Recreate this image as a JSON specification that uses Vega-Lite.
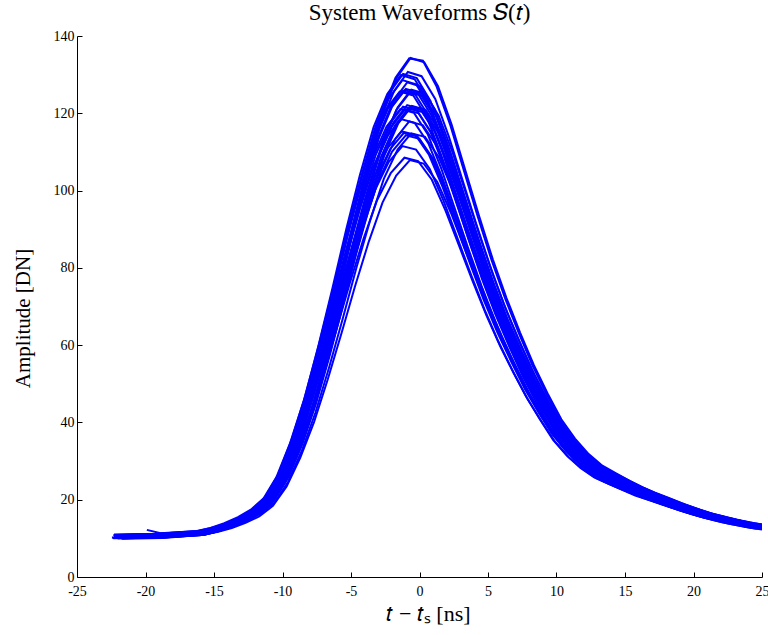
{
"$schema": "https://vega.github.io/schema/vega-lite/v6.json",
"autosize": "none",
"width": 685,
"height": 541,
"padding": {"left": 77, "top": 36, "right": 6, "bottom": 58},
"background": "white",
"config": {"view": {"stroke": null}, "font": "Liberation Serif"},
"title": {"text": "System Waveforms 𝑆(𝑡)", "font": "Liberation Serif", "fontSize": 23, "fontWeight": "normal", "color": "black", "anchor": "middle", "frame": "group", "baseline": "alphabetic", "offset": -14},
"data": {"values": [
{"w":1,"t":-21.7,"a":10.2},{"w":1,"t":-18.7,"a":10.4},{"w":1,"t":-15.7,"a":11.0},{"w":1,"t":-14.7,"a":11.7},{"w":1,"t":-13.7,"a":12.7},{"w":1,"t":-12.7,"a":14.0},{"w":1,"t":-11.7,"a":15.7},{"w":1,"t":-10.7,"a":18.4},{"w":1,"t":-9.7,"a":23.4},{"w":1,"t":-8.7,"a":30.9},{"w":1,"t":-7.7,"a":40.1},{"w":1,"t":-6.7,"a":51.1},{"w":1,"t":-5.7,"a":63.0},{"w":1,"t":-4.7,"a":75.3},{"w":1,"t":-3.7,"a":86.8},{"w":1,"t":-2.7,"a":96.9},{"w":1,"t":-1.7,"a":103.9},{"w":1,"t":-0.7,"a":107.9},{"w":1,"t":0.3,"a":107.0},{"w":1,"t":1.3,"a":102.2},{"w":1,"t":2.3,"a":94.2},{"w":1,"t":3.3,"a":85.0},{"w":1,"t":4.3,"a":75.8},{"w":1,"t":5.3,"a":67.0},{"w":1,"t":6.3,"a":59.0},{"w":1,"t":7.3,"a":52.0},{"w":1,"t":8.3,"a":45.4},{"w":1,"t":9.3,"a":39.7},{"w":1,"t":10.3,"a":34.4},{"w":1,"t":11.3,"a":30.4},{"w":1,"t":12.3,"a":27.4},{"w":1,"t":13.3,"a":25.0},{"w":1,"t":14.3,"a":23.4},{"w":1,"t":15.3,"a":21.9},{"w":1,"t":16.3,"a":20.5},{"w":1,"t":17.3,"a":19.3},{"w":1,"t":18.3,"a":18.1},{"w":1,"t":19.3,"a":17.0},{"w":1,"t":20.3,"a":15.9},{"w":1,"t":21.3,"a":15.0},{"w":1,"t":22.3,"a":14.2},{"w":1,"t":23.3,"a":13.5},{"w":1,"t":24.3,"a":12.8},{"w":1,"t":25.3,"a":12.3},
{"w":2,"t":-22.1,"a":10.8},{"w":2,"t":-19.1,"a":11.0},{"w":2,"t":-16.1,"a":11.6},{"w":2,"t":-15.1,"a":12.3},{"w":2,"t":-14.1,"a":13.3},{"w":2,"t":-13.1,"a":14.6},{"w":2,"t":-12.1,"a":16.3},{"w":2,"t":-11.1,"a":19.0},{"w":2,"t":-10.1,"a":24.0},{"w":2,"t":-9.1,"a":31.5},{"w":2,"t":-8.1,"a":40.7},{"w":2,"t":-7.1,"a":51.7},{"w":2,"t":-6.1,"a":63.6},{"w":2,"t":-5.1,"a":75.9},{"w":2,"t":-4.1,"a":87.4},{"w":2,"t":-3.1,"a":97.5},{"w":2,"t":-2.1,"a":104.5},{"w":2,"t":-1.1,"a":108.5},{"w":2,"t":-0.1,"a":107.6},{"w":2,"t":0.9,"a":102.8},{"w":2,"t":1.9,"a":94.8},{"w":2,"t":2.9,"a":85.6},{"w":2,"t":3.9,"a":76.4},{"w":2,"t":4.9,"a":67.6},{"w":2,"t":5.9,"a":59.6},{"w":2,"t":6.9,"a":52.6},{"w":2,"t":7.9,"a":46.0},{"w":2,"t":8.9,"a":40.3},{"w":2,"t":9.9,"a":35.0},{"w":2,"t":10.9,"a":31.0},{"w":2,"t":11.9,"a":28.0},{"w":2,"t":12.9,"a":25.6},{"w":2,"t":13.9,"a":24.0},{"w":2,"t":14.9,"a":22.5},{"w":2,"t":15.9,"a":21.1},{"w":2,"t":16.9,"a":19.9},{"w":2,"t":17.9,"a":18.7},{"w":2,"t":18.9,"a":17.6},{"w":2,"t":19.9,"a":16.5},{"w":2,"t":20.9,"a":15.6},{"w":2,"t":21.9,"a":14.8},{"w":2,"t":22.9,"a":14.1},{"w":2,"t":23.9,"a":13.4},{"w":2,"t":24.9,"a":12.9},
{"w":3,"t":-21.6,"a":10.5},{"w":3,"t":-18.6,"a":10.7},{"w":3,"t":-15.6,"a":11.3},{"w":3,"t":-14.6,"a":12.1},{"w":3,"t":-13.6,"a":13.1},{"w":3,"t":-12.6,"a":14.5},{"w":3,"t":-11.6,"a":16.4},{"w":3,"t":-10.6,"a":19.2},{"w":3,"t":-9.6,"a":24.6},{"w":3,"t":-8.6,"a":32.6},{"w":3,"t":-7.6,"a":42.5},{"w":3,"t":-6.6,"a":54.2},{"w":3,"t":-5.6,"a":66.9},{"w":3,"t":-4.6,"a":80.1},{"w":3,"t":-3.6,"a":92.3},{"w":3,"t":-2.6,"a":103.1},{"w":3,"t":-1.6,"a":110.6},{"w":3,"t":-0.6,"a":114.8},{"w":3,"t":0.4,"a":113.9},{"w":3,"t":1.4,"a":108.7},{"w":3,"t":2.4,"a":100.3},{"w":3,"t":3.4,"a":90.4},{"w":3,"t":4.4,"a":80.5},{"w":3,"t":5.4,"a":71.1},{"w":3,"t":6.4,"a":62.7},{"w":3,"t":7.4,"a":55.2},{"w":3,"t":8.4,"a":48.1},{"w":3,"t":9.4,"a":42.0},{"w":3,"t":10.4,"a":36.4},{"w":3,"t":11.4,"a":32.1},{"w":3,"t":12.4,"a":28.8},{"w":3,"t":13.4,"a":26.3},{"w":3,"t":14.4,"a":24.6},{"w":3,"t":15.4,"a":23.0},{"w":3,"t":16.4,"a":21.5},{"w":3,"t":17.4,"a":20.2},{"w":3,"t":18.4,"a":19.0},{"w":3,"t":19.4,"a":17.7},{"w":3,"t":20.4,"a":16.6},{"w":3,"t":21.4,"a":15.6},{"w":3,"t":22.4,"a":14.7},{"w":3,"t":23.4,"a":14.0},{"w":3,"t":24.4,"a":13.3},{"w":3,"t":25.4,"a":12.8},
{"w":4,"t":-22,"a":10.0},{"w":4,"t":-19,"a":10.2},{"w":4,"t":-16,"a":10.8},{"w":4,"t":-15,"a":11.6},{"w":4,"t":-14,"a":12.6},{"w":4,"t":-13,"a":14.0},{"w":4,"t":-12,"a":15.9},{"w":4,"t":-11,"a":18.7},{"w":4,"t":-10,"a":24.1},{"w":4,"t":-9,"a":32.1},{"w":4,"t":-8,"a":42.0},{"w":4,"t":-7,"a":53.7},{"w":4,"t":-6,"a":66.4},{"w":4,"t":-5,"a":79.6},{"w":4,"t":-4,"a":91.8},{"w":4,"t":-3,"a":102.6},{"w":4,"t":-2,"a":110.1},{"w":4,"t":-1,"a":114.3},{"w":4,"t":0,"a":113.4},{"w":4,"t":1,"a":108.2},{"w":4,"t":2,"a":99.8},{"w":4,"t":3,"a":89.9},{"w":4,"t":4,"a":80.0},{"w":4,"t":5,"a":70.6},{"w":4,"t":6,"a":62.2},{"w":4,"t":7,"a":54.7},{"w":4,"t":8,"a":47.6},{"w":4,"t":9,"a":41.5},{"w":4,"t":10,"a":35.9},{"w":4,"t":11,"a":31.6},{"w":4,"t":12,"a":28.3},{"w":4,"t":13,"a":25.8},{"w":4,"t":14,"a":24.1},{"w":4,"t":15,"a":22.5},{"w":4,"t":16,"a":21.0},{"w":4,"t":17,"a":19.7},{"w":4,"t":18,"a":18.5},{"w":4,"t":19,"a":17.2},{"w":4,"t":20,"a":16.1},{"w":4,"t":21,"a":15.1},{"w":4,"t":22,"a":14.2},{"w":4,"t":23,"a":13.5},{"w":4,"t":24,"a":12.8},{"w":4,"t":25,"a":12.3},
{"w":5,"t":-22.3,"a":11.0},{"w":5,"t":-19.3,"a":11.2},{"w":5,"t":-16.3,"a":11.8},{"w":5,"t":-15.3,"a":12.6},{"w":5,"t":-14.3,"a":13.6},{"w":5,"t":-13.3,"a":15.0},{"w":5,"t":-12.3,"a":16.9},{"w":5,"t":-11.3,"a":19.7},{"w":5,"t":-10.3,"a":25.1},{"w":5,"t":-9.3,"a":33.1},{"w":5,"t":-8.3,"a":43.0},{"w":5,"t":-7.3,"a":54.7},{"w":5,"t":-6.3,"a":67.4},{"w":5,"t":-5.3,"a":80.6},{"w":5,"t":-4.3,"a":92.8},{"w":5,"t":-3.3,"a":103.6},{"w":5,"t":-2.3,"a":111.1},{"w":5,"t":-1.3,"a":115.3},{"w":5,"t":-0.3,"a":114.4},{"w":5,"t":0.7,"a":109.2},{"w":5,"t":1.7,"a":100.8},{"w":5,"t":2.7,"a":90.9},{"w":5,"t":3.7,"a":81.0},{"w":5,"t":4.7,"a":71.6},{"w":5,"t":5.7,"a":63.2},{"w":5,"t":6.7,"a":55.7},{"w":5,"t":7.7,"a":48.6},{"w":5,"t":8.7,"a":42.5},{"w":5,"t":9.7,"a":36.9},{"w":5,"t":10.7,"a":32.6},{"w":5,"t":11.7,"a":29.3},{"w":5,"t":12.7,"a":26.8},{"w":5,"t":13.7,"a":25.1},{"w":5,"t":14.7,"a":23.5},{"w":5,"t":15.7,"a":22.0},{"w":5,"t":16.7,"a":20.7},{"w":5,"t":17.7,"a":19.5},{"w":5,"t":18.7,"a":18.2},{"w":5,"t":19.7,"a":17.1},{"w":5,"t":20.7,"a":16.1},{"w":5,"t":21.7,"a":15.2},
{"w":6,"t":-21.8,"a":10.3},{"w":6,"t":-18.8,"a":10.5},{"w":6,"t":-15.8,"a":11.2},{"w":6,"t":-14.8,"a":12.0},{"w":6,"t":-13.8,"a":13.1},{"w":6,"t":-12.8,"a":14.6},{"w":6,"t":-11.8,"a":16.6},{"w":6,"t":-10.8,"a":19.6},{"w":6,"t":-9.8,"a":25.3},{"w":6,"t":-8.8,"a":33.8},{"w":6,"t":-7.8,"a":44.3},{"w":6,"t":-6.8,"a":56.8},{"w":6,"t":-5.8,"a":70.3},{"w":6,"t":-4.8,"a":84.3},{"w":6,"t":-3.8,"a":97.3},{"w":6,"t":-2.8,"a":108.8},{"w":6,"t":-1.8,"a":116.8},{"w":6,"t":-0.8,"a":121.3},{"w":6,"t":0.2,"a":120.3},{"w":6,"t":1.2,"a":114.8},{"w":6,"t":2.2,"a":105.8},{"w":6,"t":3.2,"a":95.3},{"w":6,"t":4.2,"a":84.8},{"w":6,"t":5.2,"a":74.8},{"w":6,"t":6.2,"a":65.8},{"w":6,"t":7.2,"a":57.8},{"w":6,"t":8.2,"a":50.3},{"w":6,"t":9.2,"a":43.8},{"w":6,"t":10.2,"a":37.8},{"w":6,"t":11.2,"a":33.3},{"w":6,"t":12.2,"a":29.8},{"w":6,"t":13.2,"a":27.1},{"w":6,"t":14.2,"a":25.3},{"w":6,"t":15.2,"a":23.6},{"w":6,"t":16.2,"a":22.0},{"w":6,"t":17.2,"a":20.6},{"w":6,"t":18.2,"a":19.3},{"w":6,"t":19.2,"a":18.0},{"w":6,"t":20.2,"a":16.8},{"w":6,"t":21.2,"a":15.7},{"w":6,"t":22.2,"a":14.8},{"w":6,"t":23.2,"a":14.0},{"w":6,"t":24.2,"a":13.3},{"w":6,"t":25.2,"a":12.7},
{"w":7,"t":-22.2,"a":10.7},{"w":7,"t":-19.2,"a":10.9},{"w":7,"t":-16.2,"a":11.6},{"w":7,"t":-15.2,"a":12.4},{"w":7,"t":-14.2,"a":13.5},{"w":7,"t":-13.2,"a":15.0},{"w":7,"t":-12.2,"a":17.0},{"w":7,"t":-11.2,"a":20.0},{"w":7,"t":-10.2,"a":25.7},{"w":7,"t":-9.2,"a":34.2},{"w":7,"t":-8.2,"a":44.7},{"w":7,"t":-7.2,"a":57.2},{"w":7,"t":-6.2,"a":70.7},{"w":7,"t":-5.2,"a":84.7},{"w":7,"t":-4.2,"a":97.7},{"w":7,"t":-3.2,"a":109.2},{"w":7,"t":-2.2,"a":117.2},{"w":7,"t":-1.2,"a":121.7},{"w":7,"t":-0.2,"a":120.7},{"w":7,"t":0.8,"a":115.2},{"w":7,"t":1.8,"a":106.2},{"w":7,"t":2.8,"a":95.7},{"w":7,"t":3.8,"a":85.2},{"w":7,"t":4.8,"a":75.2},{"w":7,"t":5.8,"a":66.2},{"w":7,"t":6.8,"a":58.2},{"w":7,"t":7.8,"a":50.7},{"w":7,"t":8.8,"a":44.2},{"w":7,"t":9.8,"a":38.2},{"w":7,"t":10.8,"a":33.7},{"w":7,"t":11.8,"a":30.2},{"w":7,"t":12.8,"a":27.5},{"w":7,"t":13.8,"a":25.7},{"w":7,"t":14.8,"a":24.0},{"w":7,"t":15.8,"a":22.4},{"w":7,"t":16.8,"a":21.0},{"w":7,"t":17.8,"a":19.7},{"w":7,"t":18.8,"a":18.4},{"w":7,"t":19.8,"a":17.2},{"w":7,"t":20.8,"a":16.1},{"w":7,"t":21.8,"a":15.2},{"w":7,"t":22.8,"a":14.4},{"w":7,"t":23.8,"a":13.7},{"w":7,"t":24.8,"a":13.1},
{"w":8,"t":-22.4,"a":10.1},{"w":8,"t":-19.4,"a":10.3},{"w":8,"t":-16.4,"a":11.0},{"w":8,"t":-15.4,"a":11.8},{"w":8,"t":-14.4,"a":12.9},{"w":8,"t":-13.4,"a":14.4},{"w":8,"t":-12.4,"a":16.4},{"w":8,"t":-11.4,"a":19.4},{"w":8,"t":-10.4,"a":25.1},{"w":8,"t":-9.4,"a":33.6},{"w":8,"t":-8.4,"a":44.1},{"w":8,"t":-7.4,"a":56.6},{"w":8,"t":-6.4,"a":70.1},{"w":8,"t":-5.4,"a":84.1},{"w":8,"t":-4.4,"a":97.1},{"w":8,"t":-3.4,"a":108.6},{"w":8,"t":-2.4,"a":116.6},{"w":8,"t":-1.4,"a":121.1},{"w":8,"t":-0.4,"a":120.1},{"w":8,"t":0.6,"a":114.6},{"w":8,"t":1.6,"a":105.6},{"w":8,"t":2.6,"a":95.1},{"w":8,"t":3.6,"a":84.6},{"w":8,"t":4.6,"a":74.6},{"w":8,"t":5.6,"a":65.6},{"w":8,"t":6.6,"a":57.6},{"w":8,"t":7.6,"a":50.1},{"w":8,"t":8.6,"a":43.6},{"w":8,"t":9.6,"a":37.6},{"w":8,"t":10.6,"a":33.1},{"w":8,"t":11.6,"a":29.6},{"w":8,"t":12.6,"a":26.9},{"w":8,"t":13.6,"a":25.1},{"w":8,"t":14.6,"a":23.4},{"w":8,"t":15.6,"a":21.8},{"w":8,"t":16.6,"a":20.4},{"w":8,"t":17.6,"a":19.1},{"w":8,"t":18.6,"a":17.8},{"w":8,"t":19.6,"a":16.6},{"w":8,"t":20.6,"a":15.5},{"w":8,"t":21.6,"a":14.6},{"w":8,"t":22.6,"a":13.8},{"w":8,"t":23.6,"a":13.1},{"w":8,"t":24.6,"a":12.5},
{"w":9,"t":-19.9,"a":12.2},{"w":9,"t":-18.9,"a":11.3},{"w":9,"t":-15.9,"a":12.0},{"w":9,"t":-14.9,"a":12.8},{"w":9,"t":-13.9,"a":13.9},{"w":9,"t":-12.9,"a":15.4},{"w":9,"t":-11.9,"a":17.4},{"w":9,"t":-10.9,"a":20.4},{"w":9,"t":-9.9,"a":26.1},{"w":9,"t":-8.9,"a":34.6},{"w":9,"t":-7.9,"a":45.1},{"w":9,"t":-6.9,"a":57.6},{"w":9,"t":-5.9,"a":71.1},{"w":9,"t":-4.9,"a":85.1},{"w":9,"t":-3.9,"a":98.1},{"w":9,"t":-2.9,"a":109.6},{"w":9,"t":-1.9,"a":117.6},{"w":9,"t":-0.9,"a":122.1},{"w":9,"t":0.1,"a":121.1},{"w":9,"t":1.1,"a":115.6},{"w":9,"t":2.1,"a":106.6},{"w":9,"t":3.1,"a":96.1},{"w":9,"t":4.1,"a":85.6},{"w":9,"t":5.1,"a":75.6},{"w":9,"t":6.1,"a":66.6},{"w":9,"t":7.1,"a":58.6},{"w":9,"t":8.1,"a":51.1},{"w":9,"t":9.1,"a":44.6},{"w":9,"t":10.1,"a":38.6},{"w":9,"t":11.1,"a":34.1},{"w":9,"t":12.1,"a":30.6},{"w":9,"t":13.1,"a":27.9},{"w":9,"t":14.1,"a":26.1},{"w":9,"t":15.1,"a":24.4},{"w":9,"t":16.1,"a":22.8},{"w":9,"t":17.1,"a":21.4},{"w":9,"t":18.1,"a":20.1},{"w":9,"t":19.1,"a":18.8},{"w":9,"t":20.1,"a":17.6},{"w":9,"t":21.1,"a":16.5},{"w":9,"t":22.1,"a":15.6},{"w":9,"t":23.1,"a":14.8},{"w":9,"t":24.1,"a":14.1},{"w":9,"t":25.1,"a":13.5},
{"w":10,"t":-22.3,"a":10.4},{"w":10,"t":-19.3,"a":10.6},{"w":10,"t":-16.3,"a":11.3},{"w":10,"t":-15.3,"a":12.2},{"w":10,"t":-14.3,"a":13.3},{"w":10,"t":-13.3,"a":14.9},{"w":10,"t":-12.3,"a":17.0},{"w":10,"t":-11.3,"a":20.1},{"w":10,"t":-10.3,"a":26.0},{"w":10,"t":-9.3,"a":34.8},{"w":10,"t":-8.3,"a":45.8},{"w":10,"t":-7.3,"a":58.8},{"w":10,"t":-6.3,"a":72.8},{"w":10,"t":-5.3,"a":87.4},{"w":10,"t":-4.3,"a":100.9},{"w":10,"t":-3.3,"a":112.8},{"w":10,"t":-2.3,"a":121.2},{"w":10,"t":-1.3,"a":125.8},{"w":10,"t":-0.3,"a":124.8},{"w":10,"t":0.7,"a":119.1},{"w":10,"t":1.7,"a":109.7},{"w":10,"t":2.7,"a":98.8},{"w":10,"t":3.7,"a":87.9},{"w":10,"t":4.7,"a":77.5},{"w":10,"t":5.7,"a":68.1},{"w":10,"t":6.7,"a":59.8},{"w":10,"t":7.7,"a":52.0},{"w":10,"t":8.7,"a":45.2},{"w":10,"t":9.7,"a":39.0},{"w":10,"t":10.7,"a":34.3},{"w":10,"t":11.7,"a":30.7},{"w":10,"t":12.7,"a":27.9},{"w":10,"t":13.7,"a":26.0},{"w":10,"t":14.7,"a":24.2},{"w":10,"t":15.7,"a":22.6},{"w":10,"t":16.7,"a":21.1},{"w":10,"t":17.7,"a":19.8},{"w":10,"t":18.7,"a":18.4},{"w":10,"t":19.7,"a":17.2},{"w":10,"t":20.7,"a":16.0},{"w":10,"t":21.7,"a":15.1},{"w":10,"t":22.7,"a":14.2},{"w":10,"t":23.7,"a":13.5},{"w":10,"t":24.7,"a":12.9},
{"w":11,"t":-22,"a":10.9},{"w":11,"t":-19,"a":11.1},{"w":11,"t":-16,"a":11.8},{"w":11,"t":-15,"a":12.7},{"w":11,"t":-14,"a":13.8},{"w":11,"t":-13,"a":15.4},{"w":11,"t":-12,"a":17.5},{"w":11,"t":-11,"a":20.6},{"w":11,"t":-10,"a":26.5},{"w":11,"t":-9,"a":35.3},{"w":11,"t":-8,"a":46.3},{"w":11,"t":-7,"a":59.3},{"w":11,"t":-6,"a":73.3},{"w":11,"t":-5,"a":87.9},{"w":11,"t":-4,"a":101.4},{"w":11,"t":-3,"a":113.3},{"w":11,"t":-2,"a":121.7},{"w":11,"t":-1,"a":126.3},{"w":11,"t":0,"a":125.3},{"w":11,"t":1,"a":119.6},{"w":11,"t":2,"a":110.2},{"w":11,"t":3,"a":99.3},{"w":11,"t":4,"a":88.4},{"w":11,"t":5,"a":78.0},{"w":11,"t":6,"a":68.6},{"w":11,"t":7,"a":60.3},{"w":11,"t":8,"a":52.5},{"w":11,"t":9,"a":45.7},{"w":11,"t":10,"a":39.5},{"w":11,"t":11,"a":34.8},{"w":11,"t":12,"a":31.2},{"w":11,"t":13,"a":28.4},{"w":11,"t":14,"a":26.5},{"w":11,"t":15,"a":24.7},{"w":11,"t":16,"a":23.1},{"w":11,"t":17,"a":21.6},{"w":11,"t":18,"a":20.3},{"w":11,"t":19,"a":18.9},{"w":11,"t":20,"a":17.7},{"w":11,"t":21,"a":16.5},{"w":11,"t":22,"a":15.6},{"w":11,"t":23,"a":14.7},{"w":11,"t":24,"a":14.0},{"w":11,"t":25,"a":13.4},
{"w":12,"t":-21.7,"a":10.0},{"w":12,"t":-18.7,"a":10.2},{"w":12,"t":-15.7,"a":10.9},{"w":12,"t":-14.7,"a":11.8},{"w":12,"t":-13.7,"a":12.9},{"w":12,"t":-12.7,"a":14.5},{"w":12,"t":-11.7,"a":16.6},{"w":12,"t":-10.7,"a":19.7},{"w":12,"t":-9.7,"a":25.6},{"w":12,"t":-8.7,"a":34.4},{"w":12,"t":-7.7,"a":45.4},{"w":12,"t":-6.7,"a":58.4},{"w":12,"t":-5.7,"a":72.4},{"w":12,"t":-4.7,"a":87.0},{"w":12,"t":-3.7,"a":100.5},{"w":12,"t":-2.7,"a":112.4},{"w":12,"t":-1.7,"a":120.8},{"w":12,"t":-0.7,"a":125.4},{"w":12,"t":0.3,"a":124.4},{"w":12,"t":1.3,"a":118.7},{"w":12,"t":2.3,"a":109.3},{"w":12,"t":3.3,"a":98.4},{"w":12,"t":4.3,"a":87.5},{"w":12,"t":5.3,"a":77.1},{"w":12,"t":6.3,"a":67.7},{"w":12,"t":7.3,"a":59.4},{"w":12,"t":8.3,"a":51.6},{"w":12,"t":9.3,"a":44.8},{"w":12,"t":10.3,"a":38.6},{"w":12,"t":11.3,"a":33.9},{"w":12,"t":12.3,"a":30.3},{"w":12,"t":13.3,"a":27.5},{"w":12,"t":14.3,"a":25.6},{"w":12,"t":15.3,"a":23.8},{"w":12,"t":16.3,"a":22.2},{"w":12,"t":17.3,"a":20.7},{"w":12,"t":18.3,"a":19.4},{"w":12,"t":19.3,"a":18.0},{"w":12,"t":20.3,"a":16.8},{"w":12,"t":21.3,"a":15.6},{"w":12,"t":22.3,"a":14.7},{"w":12,"t":23.3,"a":13.8},{"w":12,"t":24.3,"a":13.1},{"w":12,"t":25.3,"a":12.5},
{"w":13,"t":-22.1,"a":10.6},{"w":13,"t":-19.1,"a":10.8},{"w":13,"t":-16.1,"a":11.5},{"w":13,"t":-15.1,"a":12.4},{"w":13,"t":-14.1,"a":13.5},{"w":13,"t":-13.1,"a":15.1},{"w":13,"t":-12.1,"a":17.2},{"w":13,"t":-11.1,"a":20.3},{"w":13,"t":-10.1,"a":26.2},{"w":13,"t":-9.1,"a":35.0},{"w":13,"t":-8.1,"a":46.0},{"w":13,"t":-7.1,"a":59.0},{"w":13,"t":-6.1,"a":73.0},{"w":13,"t":-5.1,"a":87.6},{"w":13,"t":-4.1,"a":101.1},{"w":13,"t":-3.1,"a":113.0},{"w":13,"t":-2.1,"a":121.4},{"w":13,"t":-1.1,"a":126.0},{"w":13,"t":-0.1,"a":125.0},{"w":13,"t":0.9,"a":119.3},{"w":13,"t":1.9,"a":109.9},{"w":13,"t":2.9,"a":99.0},{"w":13,"t":3.9,"a":88.1},{"w":13,"t":4.9,"a":77.7},{"w":13,"t":5.9,"a":68.3},{"w":13,"t":6.9,"a":60.0},{"w":13,"t":7.9,"a":52.2},{"w":13,"t":8.9,"a":45.4},{"w":13,"t":9.9,"a":39.2},{"w":13,"t":10.9,"a":34.5},{"w":13,"t":11.9,"a":30.9},{"w":13,"t":12.9,"a":28.1},{"w":13,"t":13.9,"a":26.2},{"w":13,"t":14.9,"a":24.4},{"w":13,"t":15.9,"a":22.8},{"w":13,"t":16.9,"a":21.3},{"w":13,"t":17.9,"a":20.0},{"w":13,"t":18.9,"a":18.6},{"w":13,"t":19.9,"a":17.4},{"w":13,"t":20.9,"a":16.2},{"w":13,"t":21.9,"a":15.3},{"w":13,"t":22.9,"a":14.4},{"w":13,"t":23.9,"a":13.7},{"w":13,"t":24.9,"a":13.1},
{"w":14,"t":-22.45,"a":10.2},{"w":14,"t":-19.45,"a":10.4},{"w":14,"t":-16.45,"a":11.1},{"w":14,"t":-15.45,"a":12.0},{"w":14,"t":-14.45,"a":13.1},{"w":14,"t":-13.45,"a":14.7},{"w":14,"t":-12.45,"a":16.8},{"w":14,"t":-11.45,"a":19.9},{"w":14,"t":-10.45,"a":25.8},{"w":14,"t":-9.45,"a":34.6},{"w":14,"t":-8.45,"a":45.6},{"w":14,"t":-7.45,"a":58.6},{"w":14,"t":-6.45,"a":72.6},{"w":14,"t":-5.45,"a":87.2},{"w":14,"t":-4.45,"a":100.7},{"w":14,"t":-3.45,"a":112.6},{"w":14,"t":-2.45,"a":121.0},{"w":14,"t":-1.45,"a":125.6},{"w":14,"t":-0.45,"a":124.6},{"w":14,"t":0.55,"a":118.9},{"w":14,"t":1.55,"a":109.5},{"w":14,"t":2.55,"a":98.6},{"w":14,"t":3.55,"a":87.7},{"w":14,"t":4.55,"a":77.3},{"w":14,"t":5.55,"a":67.9},{"w":14,"t":6.55,"a":59.6},{"w":14,"t":7.55,"a":51.8},{"w":14,"t":8.55,"a":45.0},{"w":14,"t":9.55,"a":38.8},{"w":14,"t":10.55,"a":34.1},{"w":14,"t":11.55,"a":30.5},{"w":14,"t":12.55,"a":27.7},{"w":14,"t":13.55,"a":25.8},{"w":14,"t":14.55,"a":24.0},{"w":14,"t":15.55,"a":22.4},{"w":14,"t":16.55,"a":20.9},{"w":14,"t":17.55,"a":19.6},{"w":14,"t":18.55,"a":18.2},{"w":14,"t":19.55,"a":17.0},{"w":14,"t":20.55,"a":15.8},{"w":14,"t":21.55,"a":14.9},
{"w":15,"t":-22.2,"a":10.3},{"w":15,"t":-19.2,"a":10.5},{"w":15,"t":-16.2,"a":11.3},{"w":15,"t":-15.2,"a":12.1},{"w":15,"t":-14.2,"a":13.3},{"w":15,"t":-13.2,"a":14.9},{"w":15,"t":-12.2,"a":17.1},{"w":15,"t":-11.2,"a":20.3},{"w":15,"t":-10.2,"a":26.5},{"w":15,"t":-9.2,"a":35.7},{"w":15,"t":-8.2,"a":47.0},{"w":15,"t":-7.2,"a":60.5},{"w":15,"t":-6.2,"a":75.1},{"w":15,"t":-5.2,"a":90.2},{"w":15,"t":-4.2,"a":104.3},{"w":15,"t":-3.2,"a":116.7},{"w":15,"t":-2.2,"a":125.3},{"w":15,"t":-1.2,"a":130.2},{"w":15,"t":-0.2,"a":129.1},{"w":15,"t":0.8,"a":123.2},{"w":15,"t":1.8,"a":113.4},{"w":15,"t":2.8,"a":102.1},{"w":15,"t":3.8,"a":90.8},{"w":15,"t":4.8,"a":80.0},{"w":15,"t":5.8,"a":70.2},{"w":15,"t":6.8,"a":61.6},{"w":15,"t":7.8,"a":53.5},{"w":15,"t":8.8,"a":46.5},{"w":15,"t":9.8,"a":40.0},{"w":15,"t":10.8,"a":35.1},{"w":15,"t":11.8,"a":31.4},{"w":15,"t":12.8,"a":28.4},{"w":15,"t":13.8,"a":26.5},{"w":15,"t":14.8,"a":24.7},{"w":15,"t":15.8,"a":22.9},{"w":15,"t":16.8,"a":21.4},{"w":15,"t":17.8,"a":20.0},{"w":15,"t":18.8,"a":18.6},{"w":15,"t":19.8,"a":17.3},{"w":15,"t":20.8,"a":16.1},{"w":15,"t":21.8,"a":15.2},{"w":15,"t":22.8,"a":14.3},{"w":15,"t":23.8,"a":13.5},{"w":15,"t":24.8,"a":12.9},
{"w":16,"t":-21.85,"a":10.8},{"w":16,"t":-18.85,"a":11.0},{"w":16,"t":-15.85,"a":11.8},{"w":16,"t":-14.85,"a":12.6},{"w":16,"t":-13.85,"a":13.8},{"w":16,"t":-12.85,"a":15.4},{"w":16,"t":-11.85,"a":17.6},{"w":16,"t":-10.85,"a":20.8},{"w":16,"t":-9.85,"a":27.0},{"w":16,"t":-8.85,"a":36.2},{"w":16,"t":-7.85,"a":47.5},{"w":16,"t":-6.85,"a":61.0},{"w":16,"t":-5.85,"a":75.6},{"w":16,"t":-4.85,"a":90.7},{"w":16,"t":-3.85,"a":104.8},{"w":16,"t":-2.85,"a":117.2},{"w":16,"t":-1.85,"a":125.8},{"w":16,"t":-0.85,"a":130.7},{"w":16,"t":0.15,"a":129.6},{"w":16,"t":1.15,"a":123.7},{"w":16,"t":2.15,"a":113.9},{"w":16,"t":3.15,"a":102.6},{"w":16,"t":4.15,"a":91.3},{"w":16,"t":5.15,"a":80.5},{"w":16,"t":6.15,"a":70.7},{"w":16,"t":7.15,"a":62.1},{"w":16,"t":8.15,"a":54.0},{"w":16,"t":9.15,"a":47.0},{"w":16,"t":10.15,"a":40.5},{"w":16,"t":11.15,"a":35.6},{"w":16,"t":12.15,"a":31.9},{"w":16,"t":13.15,"a":28.9},{"w":16,"t":14.15,"a":27.0},{"w":16,"t":15.15,"a":25.2},{"w":16,"t":16.15,"a":23.4},{"w":16,"t":17.15,"a":21.9},{"w":16,"t":18.15,"a":20.5},{"w":16,"t":19.15,"a":19.1},{"w":16,"t":20.15,"a":17.8},{"w":16,"t":21.15,"a":16.6},{"w":16,"t":22.15,"a":15.7},{"w":16,"t":23.15,"a":14.8},{"w":16,"t":24.15,"a":14.0},{"w":16,"t":25.15,"a":13.4},
{"w":17,"t":-22.35,"a":10.0},{"w":17,"t":-19.35,"a":10.2},{"w":17,"t":-16.35,"a":11.0},{"w":17,"t":-15.35,"a":11.8},{"w":17,"t":-14.35,"a":13.0},{"w":17,"t":-13.35,"a":14.6},{"w":17,"t":-12.35,"a":16.8},{"w":17,"t":-11.35,"a":20.0},{"w":17,"t":-10.35,"a":26.2},{"w":17,"t":-9.35,"a":35.4},{"w":17,"t":-8.35,"a":46.7},{"w":17,"t":-7.35,"a":60.2},{"w":17,"t":-6.35,"a":74.8},{"w":17,"t":-5.35,"a":89.9},{"w":17,"t":-4.35,"a":104.0},{"w":17,"t":-3.35,"a":116.4},{"w":17,"t":-2.35,"a":125.0},{"w":17,"t":-1.35,"a":129.9},{"w":17,"t":-0.35,"a":128.8},{"w":17,"t":0.65,"a":122.9},{"w":17,"t":1.65,"a":113.1},{"w":17,"t":2.65,"a":101.8},{"w":17,"t":3.65,"a":90.5},{"w":17,"t":4.65,"a":79.7},{"w":17,"t":5.65,"a":69.9},{"w":17,"t":6.65,"a":61.3},{"w":17,"t":7.65,"a":53.2},{"w":17,"t":8.65,"a":46.2},{"w":17,"t":9.65,"a":39.7},{"w":17,"t":10.65,"a":34.8},{"w":17,"t":11.65,"a":31.1},{"w":17,"t":12.65,"a":28.1},{"w":17,"t":13.65,"a":26.2},{"w":17,"t":14.65,"a":24.4},{"w":17,"t":15.65,"a":22.6},{"w":17,"t":16.65,"a":21.1},{"w":17,"t":17.65,"a":19.7},{"w":17,"t":18.65,"a":18.3},{"w":17,"t":19.65,"a":17.0},{"w":17,"t":20.65,"a":15.8},{"w":17,"t":21.65,"a":14.9},{"w":17,"t":22.65,"a":14.0},{"w":17,"t":23.65,"a":13.2},{"w":17,"t":24.65,"a":12.6},
{"w":18,"t":-21.65,"a":10.6},{"w":18,"t":-18.65,"a":10.8},{"w":18,"t":-15.65,"a":11.5},{"w":18,"t":-14.65,"a":12.3},{"w":18,"t":-13.65,"a":13.4},{"w":18,"t":-12.65,"a":14.9},{"w":18,"t":-11.65,"a":16.9},{"w":18,"t":-10.65,"a":19.9},{"w":18,"t":-9.65,"a":25.6},{"w":18,"t":-8.65,"a":34.1},{"w":18,"t":-7.65,"a":44.6},{"w":18,"t":-6.65,"a":57.1},{"w":18,"t":-5.65,"a":70.6},{"w":18,"t":-4.65,"a":84.6},{"w":18,"t":-3.65,"a":97.6},{"w":18,"t":-2.65,"a":109.1},{"w":18,"t":-1.65,"a":117.1},{"w":18,"t":-0.65,"a":121.6},{"w":18,"t":0.35,"a":120.6},{"w":18,"t":1.35,"a":115.1},{"w":18,"t":2.35,"a":106.1},{"w":18,"t":3.35,"a":95.6},{"w":18,"t":4.35,"a":85.1},{"w":18,"t":5.35,"a":75.1},{"w":18,"t":6.35,"a":66.1},{"w":18,"t":7.35,"a":58.1},{"w":18,"t":8.35,"a":50.6},{"w":18,"t":9.35,"a":44.1},{"w":18,"t":10.35,"a":38.1},{"w":18,"t":11.35,"a":33.6},{"w":18,"t":12.35,"a":30.1},{"w":18,"t":13.35,"a":27.4},{"w":18,"t":14.35,"a":25.6},{"w":18,"t":15.35,"a":23.9},{"w":18,"t":16.35,"a":22.3},{"w":18,"t":17.35,"a":20.9},{"w":18,"t":18.35,"a":19.6},{"w":18,"t":19.35,"a":18.3},{"w":18,"t":20.35,"a":17.1},{"w":18,"t":21.35,"a":16.0},{"w":18,"t":22.35,"a":15.1},{"w":18,"t":23.35,"a":14.3},{"w":18,"t":24.35,"a":13.6},{"w":18,"t":25.35,"a":13.0},
{"w":19,"t":-21.65,"a":10.0},{"w":19,"t":-18.65,"a":10.2},{"w":19,"t":-15.65,"a":11.0},{"w":19,"t":-14.65,"a":11.9},{"w":19,"t":-13.65,"a":13.1},{"w":19,"t":-12.65,"a":14.8},{"w":19,"t":-11.65,"a":17.1},{"w":19,"t":-10.65,"a":20.4},{"w":19,"t":-9.65,"a":26.8},{"w":19,"t":-8.65,"a":36.3},{"w":19,"t":-7.65,"a":48.1},{"w":19,"t":-6.65,"a":62.1},{"w":19,"t":-5.65,"a":77.2},{"w":19,"t":-4.65,"a":92.9},{"w":19,"t":-3.65,"a":107.4},{"w":19,"t":-2.65,"a":120.3},{"w":19,"t":-1.65,"a":129.3},{"w":19,"t":-0.65,"a":134.3},{"w":19,"t":0.35,"a":133.2},{"w":19,"t":1.35,"a":127.0},{"w":19,"t":2.35,"a":117.0},{"w":19,"t":3.35,"a":105.2},{"w":19,"t":4.35,"a":93.4},{"w":19,"t":5.35,"a":82.2},{"w":19,"t":6.35,"a":72.2},{"w":19,"t":7.35,"a":63.2},{"w":19,"t":8.35,"a":54.8},{"w":19,"t":9.35,"a":47.5},{"w":19,"t":10.35,"a":40.8},{"w":19,"t":11.35,"a":35.8},{"w":19,"t":12.35,"a":31.8},{"w":19,"t":13.35,"a":28.8},{"w":19,"t":14.35,"a":26.8},{"w":19,"t":15.35,"a":24.9},{"w":19,"t":16.35,"a":23.1},{"w":19,"t":17.35,"a":21.5},{"w":19,"t":18.35,"a":20.1},{"w":19,"t":19.35,"a":18.6},{"w":19,"t":20.35,"a":17.3},{"w":19,"t":21.35,"a":16.0},{"w":19,"t":22.35,"a":15.0},{"w":19,"t":23.35,"a":14.1},{"w":19,"t":24.35,"a":13.4},{"w":19,"t":25.35,"a":12.7},
{"w":20,"t":-21.75,"a":9.9},{"w":20,"t":-18.75,"a":10.1},{"w":20,"t":-15.75,"a":10.9},{"w":20,"t":-14.75,"a":11.8},{"w":20,"t":-13.75,"a":13.0},{"w":20,"t":-12.75,"a":14.7},{"w":20,"t":-11.75,"a":17.0},{"w":20,"t":-10.75,"a":20.3},{"w":20,"t":-9.75,"a":26.7},{"w":20,"t":-8.75,"a":36.2},{"w":20,"t":-7.75,"a":48.0},{"w":20,"t":-6.75,"a":62.0},{"w":20,"t":-5.75,"a":77.1},{"w":20,"t":-4.75,"a":92.8},{"w":20,"t":-3.75,"a":107.3},{"w":20,"t":-2.75,"a":120.2},{"w":20,"t":-1.75,"a":129.2},{"w":20,"t":-0.75,"a":134.2},{"w":20,"t":0.25,"a":133.6},{"w":20,"t":1.25,"a":126.9},{"w":20,"t":2.25,"a":116.9},{"w":20,"t":3.25,"a":105.1},{"w":20,"t":4.25,"a":93.3},{"w":20,"t":5.25,"a":82.1},{"w":20,"t":6.25,"a":72.1},{"w":20,"t":7.25,"a":63.1},{"w":20,"t":8.25,"a":54.7},{"w":20,"t":9.25,"a":47.4},{"w":20,"t":10.25,"a":40.7},{"w":20,"t":11.25,"a":35.7},{"w":20,"t":12.25,"a":31.7},{"w":20,"t":13.25,"a":28.7},{"w":20,"t":14.25,"a":26.7},{"w":20,"t":15.25,"a":24.8},{"w":20,"t":16.25,"a":23.0},{"w":20,"t":17.25,"a":21.4},{"w":20,"t":18.25,"a":20.0},{"w":20,"t":19.25,"a":18.5},{"w":20,"t":20.25,"a":17.2},{"w":20,"t":21.25,"a":15.9},{"w":20,"t":22.25,"a":14.9},{"w":20,"t":23.25,"a":14.0},{"w":20,"t":24.25,"a":13.3},{"w":20,"t":25.25,"a":12.6},
{"w":21,"t":-22.15,"a":10.6},{"w":21,"t":-19.15,"a":10.8},{"w":21,"t":-16.15,"a":11.4},{"w":21,"t":-15.15,"a":12.2},{"w":21,"t":-14.15,"a":13.2},{"w":21,"t":-13.15,"a":14.6},{"w":21,"t":-12.15,"a":16.5},{"w":21,"t":-11.15,"a":19.3},{"w":21,"t":-10.15,"a":24.7},{"w":21,"t":-9.15,"a":32.7},{"w":21,"t":-8.15,"a":42.6},{"w":21,"t":-7.15,"a":54.3},{"w":21,"t":-6.15,"a":67.0},{"w":21,"t":-5.15,"a":80.2},{"w":21,"t":-4.15,"a":92.4},{"w":21,"t":-3.15,"a":103.2},{"w":21,"t":-2.15,"a":110.7},{"w":21,"t":-1.15,"a":114.9},{"w":21,"t":-0.15,"a":114.0},{"w":21,"t":0.85,"a":108.8},{"w":21,"t":1.85,"a":100.4},{"w":21,"t":2.85,"a":90.5},{"w":21,"t":3.85,"a":80.6},{"w":21,"t":4.85,"a":71.2},{"w":21,"t":5.85,"a":62.8},{"w":21,"t":6.85,"a":55.3},{"w":21,"t":7.85,"a":48.2},{"w":21,"t":8.85,"a":42.1},{"w":21,"t":9.85,"a":36.5},{"w":21,"t":10.85,"a":32.2},{"w":21,"t":11.85,"a":28.9},{"w":21,"t":12.85,"a":26.4},{"w":21,"t":13.85,"a":24.7},{"w":21,"t":14.85,"a":23.1},{"w":21,"t":15.85,"a":21.6},{"w":21,"t":16.85,"a":20.3},{"w":21,"t":17.85,"a":19.1},{"w":21,"t":18.85,"a":17.8},{"w":21,"t":19.85,"a":16.7},{"w":21,"t":20.85,"a":15.7},{"w":21,"t":21.85,"a":14.8},{"w":21,"t":22.85,"a":14.1},{"w":21,"t":23.85,"a":13.4},{"w":21,"t":24.85,"a":12.9},
{"w":22,"t":-22.05,"a":10.0},{"w":22,"t":-19.05,"a":10.2},{"w":22,"t":-16.05,"a":10.9},{"w":22,"t":-15.05,"a":11.7},{"w":22,"t":-14.05,"a":12.8},{"w":22,"t":-13.05,"a":14.3},{"w":22,"t":-12.05,"a":16.3},{"w":22,"t":-11.05,"a":19.3},{"w":22,"t":-10.05,"a":25.0},{"w":22,"t":-9.05,"a":33.5},{"w":22,"t":-8.05,"a":44.0},{"w":22,"t":-7.05,"a":56.5},{"w":22,"t":-6.05,"a":70.0},{"w":22,"t":-5.05,"a":84.0},{"w":22,"t":-4.05,"a":97.0},{"w":22,"t":-3.05,"a":108.5},{"w":22,"t":-2.05,"a":116.5},{"w":22,"t":-1.05,"a":121.0},{"w":22,"t":-0.05,"a":120.0},{"w":22,"t":0.95,"a":114.5},{"w":22,"t":1.95,"a":105.5},{"w":22,"t":2.95,"a":95.0},{"w":22,"t":3.95,"a":84.5},{"w":22,"t":4.95,"a":74.5},{"w":22,"t":5.95,"a":65.5},{"w":22,"t":6.95,"a":57.5},{"w":22,"t":7.95,"a":50.0},{"w":22,"t":8.95,"a":43.5},{"w":22,"t":9.95,"a":37.5},{"w":22,"t":10.95,"a":33.0},{"w":22,"t":11.95,"a":29.5},{"w":22,"t":12.95,"a":26.8},{"w":22,"t":13.95,"a":25.0},{"w":22,"t":14.95,"a":23.3},{"w":22,"t":15.95,"a":21.7},{"w":22,"t":16.95,"a":20.3},{"w":22,"t":17.95,"a":19.0},{"w":22,"t":18.95,"a":17.7},{"w":22,"t":19.95,"a":16.5},{"w":22,"t":20.95,"a":15.4},{"w":22,"t":21.95,"a":14.5},{"w":22,"t":22.95,"a":13.7},{"w":22,"t":23.95,"a":13.0},{"w":22,"t":24.95,"a":12.4},
{"w":23,"t":-22.25,"a":10.5},{"w":23,"t":-19.25,"a":10.7},{"w":23,"t":-16.25,"a":11.3},{"w":23,"t":-15.25,"a":12.0},{"w":23,"t":-14.25,"a":13.0},{"w":23,"t":-13.25,"a":14.4},{"w":23,"t":-12.25,"a":16.2},{"w":23,"t":-11.25,"a":19.0},{"w":23,"t":-10.25,"a":24.2},{"w":23,"t":-9.25,"a":31.9},{"w":23,"t":-8.25,"a":41.4},{"w":23,"t":-7.25,"a":52.8},{"w":23,"t":-6.25,"a":65.1},{"w":23,"t":-5.25,"a":77.8},{"w":23,"t":-4.25,"a":89.7},{"w":23,"t":-3.25,"a":100.1},{"w":23,"t":-2.25,"a":107.4},{"w":23,"t":-1.25,"a":111.5},{"w":23,"t":-0.25,"a":110.6},{"w":23,"t":0.75,"a":105.6},{"w":23,"t":1.75,"a":97.4},{"w":23,"t":2.75,"a":87.9},{"w":23,"t":3.75,"a":78.3},{"w":23,"t":4.75,"a":69.2},{"w":23,"t":5.75,"a":61.0},{"w":23,"t":6.75,"a":53.7},{"w":23,"t":7.75,"a":46.9},{"w":23,"t":8.75,"a":41.0},{"w":23,"t":9.75,"a":35.5},{"w":23,"t":10.75,"a":31.4},{"w":23,"t":11.75,"a":28.2},{"w":23,"t":12.75,"a":25.8},{"w":23,"t":13.75,"a":24.2},{"w":23,"t":14.75,"a":22.6},{"w":23,"t":15.75,"a":21.1},{"w":23,"t":16.75,"a":19.9},{"w":23,"t":17.75,"a":18.7},{"w":23,"t":18.75,"a":17.5},{"w":23,"t":19.75,"a":16.4},{"w":23,"t":20.75,"a":15.4},{"w":23,"t":21.75,"a":14.6},{"w":23,"t":22.75,"a":13.9},{"w":23,"t":23.75,"a":13.2},{"w":23,"t":24.75,"a":12.7},
{"w":24,"t":-21.75,"a":10.2},{"w":24,"t":-18.75,"a":10.4},{"w":24,"t":-15.75,"a":11.1},{"w":24,"t":-14.75,"a":11.8},{"w":24,"t":-13.75,"a":12.9},{"w":24,"t":-12.75,"a":14.4},{"w":24,"t":-11.75,"a":16.3},{"w":24,"t":-10.75,"a":19.2},{"w":24,"t":-9.75,"a":24.8},{"w":24,"t":-8.75,"a":33.0},{"w":24,"t":-7.75,"a":43.2},{"w":24,"t":-6.75,"a":55.3},{"w":24,"t":-5.75,"a":68.4},{"w":24,"t":-4.75,"a":82.0},{"w":24,"t":-3.75,"a":94.6},{"w":24,"t":-2.75,"a":105.7},{"w":24,"t":-1.75,"a":113.5},{"w":24,"t":-0.75,"a":117.9},{"w":24,"t":0.25,"a":116.9},{"w":24,"t":1.25,"a":111.6},{"w":24,"t":2.25,"a":102.8},{"w":24,"t":3.25,"a":92.7},{"w":24,"t":4.25,"a":82.5},{"w":24,"t":5.25,"a":72.8},{"w":24,"t":6.25,"a":64.0},{"w":24,"t":7.25,"a":56.3},{"w":24,"t":8.25,"a":49.0},{"w":24,"t":9.25,"a":42.7},{"w":24,"t":10.25,"a":36.9},{"w":24,"t":11.25,"a":32.5},{"w":24,"t":12.25,"a":29.1},{"w":24,"t":13.25,"a":26.5},{"w":24,"t":14.25,"a":24.8},{"w":24,"t":15.25,"a":23.1},{"w":24,"t":16.25,"a":21.5},{"w":24,"t":17.25,"a":20.2},{"w":24,"t":18.25,"a":18.9},{"w":24,"t":19.25,"a":17.7},{"w":24,"t":20.25,"a":16.5},{"w":24,"t":21.25,"a":15.4},{"w":24,"t":22.25,"a":14.6},{"w":24,"t":23.25,"a":13.8},{"w":24,"t":24.25,"a":13.1},{"w":24,"t":25.25,"a":12.5},
{"w":25,"t":-22.35,"a":10.8},{"w":25,"t":-19.35,"a":11.0},{"w":25,"t":-16.35,"a":11.7},{"w":25,"t":-15.35,"a":12.4},{"w":25,"t":-14.35,"a":13.5},{"w":25,"t":-13.35,"a":15.0},{"w":25,"t":-12.35,"a":16.9},{"w":25,"t":-11.35,"a":19.8},{"w":25,"t":-10.35,"a":25.4},{"w":25,"t":-9.35,"a":33.6},{"w":25,"t":-8.35,"a":43.8},{"w":25,"t":-7.35,"a":55.9},{"w":25,"t":-6.35,"a":69.0},{"w":25,"t":-5.35,"a":82.6},{"w":25,"t":-4.35,"a":95.2},{"w":25,"t":-3.35,"a":106.3},{"w":25,"t":-2.35,"a":114.1},{"w":25,"t":-1.35,"a":118.5},{"w":25,"t":-0.35,"a":117.5},{"w":25,"t":0.65,"a":112.2},{"w":25,"t":1.65,"a":103.4},{"w":25,"t":2.65,"a":93.3},{"w":25,"t":3.65,"a":83.1},{"w":25,"t":4.65,"a":73.4},{"w":25,"t":5.65,"a":64.6},{"w":25,"t":6.65,"a":56.9},{"w":25,"t":7.65,"a":49.6},{"w":25,"t":8.65,"a":43.3},{"w":25,"t":9.65,"a":37.5},{"w":25,"t":10.65,"a":33.1},{"w":25,"t":11.65,"a":29.7},{"w":25,"t":12.65,"a":27.1},{"w":25,"t":13.65,"a":25.4},{"w":25,"t":14.65,"a":23.7},{"w":25,"t":15.65,"a":22.1},{"w":25,"t":16.65,"a":20.8},{"w":25,"t":17.65,"a":19.5},{"w":25,"t":18.65,"a":18.3},{"w":25,"t":19.65,"a":17.1},{"w":25,"t":20.65,"a":16.0},{"w":25,"t":21.65,"a":15.2},{"w":25,"t":22.65,"a":14.4},{"w":25,"t":23.65,"a":13.7},{"w":25,"t":24.65,"a":13.1},
{"w":26,"t":-21.9,"a":10.3},{"w":26,"t":-18.9,"a":10.5},{"w":26,"t":-15.9,"a":11.3},{"w":26,"t":-14.9,"a":12.1},{"w":26,"t":-13.9,"a":13.3},{"w":26,"t":-12.9,"a":14.9},{"w":26,"t":-11.9,"a":17.0},{"w":26,"t":-10.9,"a":20.2},{"w":26,"t":-9.9,"a":26.2},{"w":26,"t":-8.9,"a":35.2},{"w":26,"t":-7.9,"a":46.3},{"w":26,"t":-6.9,"a":59.6},{"w":26,"t":-5.9,"a":73.9},{"w":26,"t":-4.9,"a":88.7},{"w":26,"t":-3.9,"a":102.5},{"w":26,"t":-2.9,"a":114.7},{"w":26,"t":-1.9,"a":123.2},{"w":26,"t":-0.9,"a":128.0},{"w":26,"t":0.1,"a":126.9},{"w":26,"t":1.1,"a":121.1},{"w":26,"t":2.1,"a":111.5},{"w":26,"t":3.1,"a":100.4},{"w":26,"t":4.1,"a":89.3},{"w":26,"t":5.1,"a":78.7},{"w":26,"t":6.1,"a":69.1},{"w":26,"t":7.1,"a":60.7},{"w":26,"t":8.1,"a":52.7},{"w":26,"t":9.1,"a":45.8},{"w":26,"t":10.1,"a":39.5},{"w":26,"t":11.1,"a":34.7},{"w":26,"t":12.1,"a":31.0},{"w":26,"t":13.1,"a":28.1},{"w":26,"t":14.1,"a":26.2},{"w":26,"t":15.1,"a":24.4},{"w":26,"t":16.1,"a":22.7},{"w":26,"t":17.1,"a":21.2},{"w":26,"t":18.1,"a":19.8},{"w":26,"t":19.1,"a":18.5},{"w":26,"t":20.1,"a":17.2},{"w":26,"t":21.1,"a":16.0},{"w":26,"t":22.1,"a":15.1},{"w":26,"t":23.1,"a":14.2},{"w":26,"t":24.1,"a":13.5},{"w":26,"t":25.1,"a":12.8},
{"w":27,"t":-22.25,"a":10.9},{"w":27,"t":-19.25,"a":11.1},{"w":27,"t":-16.25,"a":11.9},{"w":27,"t":-15.25,"a":12.7},{"w":27,"t":-14.25,"a":13.9},{"w":27,"t":-13.25,"a":15.5},{"w":27,"t":-12.25,"a":17.6},{"w":27,"t":-11.25,"a":20.8},{"w":27,"t":-10.25,"a":26.8},{"w":27,"t":-9.25,"a":35.8},{"w":27,"t":-8.25,"a":46.9},{"w":27,"t":-7.25,"a":60.2},{"w":27,"t":-6.25,"a":74.5},{"w":27,"t":-5.25,"a":89.3},{"w":27,"t":-4.25,"a":103.1},{"w":27,"t":-3.25,"a":115.3},{"w":27,"t":-2.25,"a":123.8},{"w":27,"t":-1.25,"a":128.6},{"w":27,"t":-0.25,"a":127.5},{"w":27,"t":0.75,"a":121.7},{"w":27,"t":1.75,"a":112.1},{"w":27,"t":2.75,"a":101.0},{"w":27,"t":3.75,"a":89.9},{"w":27,"t":4.75,"a":79.3},{"w":27,"t":5.75,"a":69.7},{"w":27,"t":6.75,"a":61.3},{"w":27,"t":7.75,"a":53.3},{"w":27,"t":8.75,"a":46.4},{"w":27,"t":9.75,"a":40.1},{"w":27,"t":10.75,"a":35.3},{"w":27,"t":11.75,"a":31.6},{"w":27,"t":12.75,"a":28.7},{"w":27,"t":13.75,"a":26.8},{"w":27,"t":14.75,"a":25.0},{"w":27,"t":15.75,"a":23.3},{"w":27,"t":16.75,"a":21.8},{"w":27,"t":17.75,"a":20.4},{"w":27,"t":18.75,"a":19.1},{"w":27,"t":19.75,"a":17.8},{"w":27,"t":20.75,"a":16.6},{"w":27,"t":21.75,"a":15.7},{"w":27,"t":22.75,"a":14.8},{"w":27,"t":23.75,"a":14.1},{"w":27,"t":24.75,"a":13.4},
{"w":28,"t":-21.55,"a":10.9},{"w":28,"t":-18.55,"a":11.1},{"w":28,"t":-15.55,"a":11.8},{"w":28,"t":-14.55,"a":12.6},{"w":28,"t":-13.55,"a":13.7},{"w":28,"t":-12.55,"a":15.2},{"w":28,"t":-11.55,"a":17.2},{"w":28,"t":-10.55,"a":20.2},{"w":28,"t":-9.55,"a":25.9},{"w":28,"t":-8.55,"a":34.4},{"w":28,"t":-7.55,"a":44.9},{"w":28,"t":-6.55,"a":57.4},{"w":28,"t":-5.55,"a":70.9},{"w":28,"t":-4.55,"a":84.9},{"w":28,"t":-3.55,"a":97.9},{"w":28,"t":-2.55,"a":109.4},{"w":28,"t":-1.55,"a":117.4},{"w":28,"t":-0.55,"a":121.9},{"w":28,"t":0.45,"a":120.9},{"w":28,"t":1.45,"a":115.4},{"w":28,"t":2.45,"a":106.4},{"w":28,"t":3.45,"a":95.9},{"w":28,"t":4.45,"a":85.4},{"w":28,"t":5.45,"a":75.4},{"w":28,"t":6.45,"a":66.4},{"w":28,"t":7.45,"a":58.4},{"w":28,"t":8.45,"a":50.9},{"w":28,"t":9.45,"a":44.4},{"w":28,"t":10.45,"a":38.4},{"w":28,"t":11.45,"a":33.9},{"w":28,"t":12.45,"a":30.4},{"w":28,"t":13.45,"a":27.7},{"w":28,"t":14.45,"a":25.9},{"w":28,"t":15.45,"a":24.2},{"w":28,"t":16.45,"a":22.6},{"w":28,"t":17.45,"a":21.2},{"w":28,"t":18.45,"a":19.9},{"w":28,"t":19.45,"a":18.6},{"w":28,"t":20.45,"a":17.4},{"w":28,"t":21.45,"a":16.3},{"w":28,"t":22.45,"a":15.4},{"w":28,"t":23.45,"a":14.6},{"w":28,"t":24.45,"a":13.9},{"w":28,"t":25.45,"a":13.3},
{"w":29,"t":-21.6,"a":10.7},{"w":29,"t":-18.6,"a":10.9},{"w":29,"t":-15.6,"a":11.6},{"w":29,"t":-14.6,"a":12.5},{"w":29,"t":-13.6,"a":13.6},{"w":29,"t":-12.6,"a":15.2},{"w":29,"t":-11.6,"a":17.3},{"w":29,"t":-10.6,"a":20.4},{"w":29,"t":-9.6,"a":26.3},{"w":29,"t":-8.6,"a":35.1},{"w":29,"t":-7.6,"a":46.1},{"w":29,"t":-6.6,"a":59.1},{"w":29,"t":-5.6,"a":73.1},{"w":29,"t":-4.6,"a":87.7},{"w":29,"t":-3.6,"a":101.2},{"w":29,"t":-2.6,"a":113.1},{"w":29,"t":-1.6,"a":121.5},{"w":29,"t":-0.6,"a":126.1},{"w":29,"t":0.4,"a":125.1},{"w":29,"t":1.4,"a":119.4},{"w":29,"t":2.4,"a":110.0},{"w":29,"t":3.4,"a":99.1},{"w":29,"t":4.4,"a":88.2},{"w":29,"t":5.4,"a":77.8},{"w":29,"t":6.4,"a":68.4},{"w":29,"t":7.4,"a":60.1},{"w":29,"t":8.4,"a":52.3},{"w":29,"t":9.4,"a":45.5},{"w":29,"t":10.4,"a":39.3},{"w":29,"t":11.4,"a":34.6},{"w":29,"t":12.4,"a":31.0},{"w":29,"t":13.4,"a":28.2},{"w":29,"t":14.4,"a":26.3},{"w":29,"t":15.4,"a":24.5},{"w":29,"t":16.4,"a":22.9},{"w":29,"t":17.4,"a":21.4},{"w":29,"t":18.4,"a":20.1},{"w":29,"t":19.4,"a":18.7},{"w":29,"t":20.4,"a":17.5},{"w":29,"t":21.4,"a":16.3},{"w":29,"t":22.4,"a":15.4},{"w":29,"t":23.4,"a":14.5},{"w":29,"t":24.4,"a":13.8},{"w":29,"t":25.4,"a":13.2}
]},
"mark": {"type": "line", "color": "#0000ff", "strokeWidth": 2, "clip": true},
"encoding": {
"x": {"field": "t", "type": "quantitative", "scale": {"domain": [-25, 25], "nice": false, "zero": false},
 "axis": {"values": [-25,-20,-15,-10,-5,0,5,10,15,20,25], "labelExpr": "datum.value + ''", "title": "𝑡 − 𝑡ₛ [ns]", "titleX": 351, "grid": false, "domainColor": "black", "domainWidth": 1, "tickColor": "black", "tickSize": -5, "labelFont": "Liberation Serif", "labelFontSize": 14, "labelColor": "black", "labelPadding": 12, "labelFlush": false, "titleFont": "Liberation Serif", "titleFontSize": 22, "titleFontWeight": "normal", "titleColor": "black", "titlePadding": 5}},
"y": {"field": "a", "type": "quantitative", "scale": {"domain": [0, 140], "nice": false},
 "axis": {"values": [0,20,40,60,80,100,120,140], "title": "Amplitude [DN]", "titleY": 282, "grid": false, "domainColor": "black", "domainWidth": 1, "tickColor": "black", "tickSize": -5, "labelFont": "Liberation Serif", "labelFontSize": 14, "labelColor": "black", "labelPadding": 8, "labelFlush": false, "titleFont": "Liberation Serif", "titleFontSize": 21, "titleFontWeight": "normal", "titleColor": "black", "titlePadding": 20}},
"detail": {"field": "w", "type": "nominal"}
}
}
